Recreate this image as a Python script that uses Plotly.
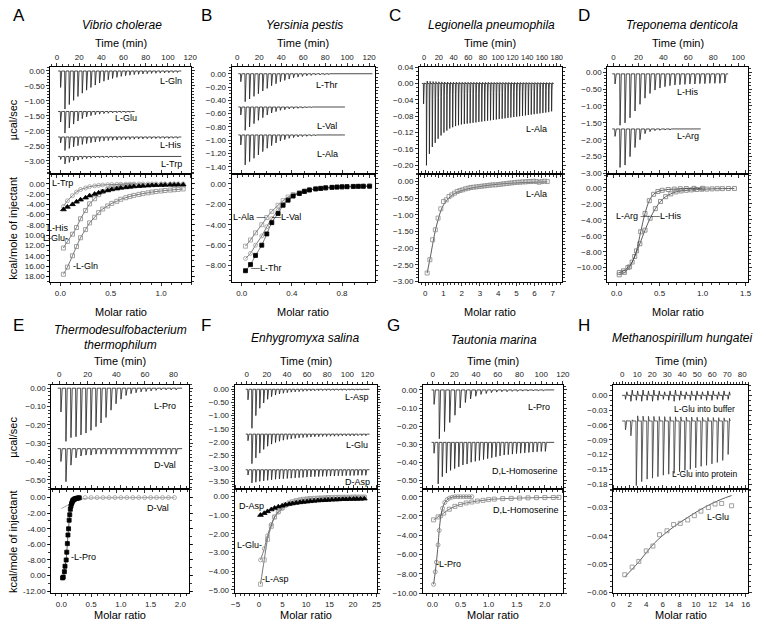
import plotly.graph_objects as go

W, H = 766, 633

# ------------------------------------------------------------------ DATA
# Panel A  (Vibrio cholerae)
A_inj = (3, 3.9)
A_Gln_peaks = [0.55,1.27,1.12,0.98,0.85,0.74,0.64,0.55,0.47,0.40,0.34,0.29,0.25,0.21,0.18,0.16,0.14,0.12,0.11,0.10,0.09,0.08,0.075,0.07,0.065,0.06,0.055,0.05]
A_Glu_peaks = [0.35,0.72,0.55,0.42,0.32,0.24,0.18,0.14,0.11,0.09,0.07,0.06,0.05,0.045,0.04,0.035,0.03]
A_His_peaks = [0.2,0.45,0.38,0.33,0.29,0.25,0.22,0.19,0.17,0.15,0.13,0.12,0.11,0.1,0.09,0.085,0.08,0.075,0.07,0.065,0.06,0.06,0.055,0.05,0.05,0.05,0.045,0.045]
A_Trp_peaks = [0.1,0.25,0.2,0.15,0.12,0.09,0.07,0.06,0.05,0.045,0.04,0.035,0.03,0.03,0.03,0.025,0.025,0.025,0.02,0.02,0.02,0.02,0.02,0.02,0.02,0.02,0.02,0.02]
A_base = {"L-Gln": 0.0, "L-Glu": -1.35, "L-His": -2.2, "L-Trp": -2.85}
A_x = [0.03,0.07,0.12,0.16,0.2,0.25,0.29,0.34,0.38,0.42,0.47,0.51,0.56,0.6,0.65,0.69,0.73,0.78,0.82,0.87,0.91,0.95,1.0,1.04,1.09,1.13,1.17,1.22]
A_Gln_y = [-17.6,-16.2,-14.0,-12.2,-10.5,-8.9,-7.6,-6.5,-5.6,-4.9,-4.3,-3.8,-3.4,-3.0,-2.7,-2.45,-2.25,-2.05,-1.9,-1.75,-1.6,-1.5,-1.4,-1.3,-1.22,-1.15,-1.08,-1.0]
A_Glu_x = [0.03,0.07,0.12,0.16,0.2,0.25,0.29,0.34,0.38,0.42,0.47,0.51,0.56,0.6,0.65,0.69,0.73]
A_Glu_y = [-12.5,-11.2,-9.8,-8.5,-6.8,-5.2,-3.9,-2.9,-2.1,-1.5,-1.1,-0.8,-0.6,-0.45,-0.35,-0.3,-0.25]
A_His_y = [-5.0,-4.5,-4.0,-3.5,-3.1,-2.7,-2.3,-2.0,-1.75,-1.5,-1.3,-1.1,-0.95,-0.8,-0.7,-0.6,-0.52,-0.45,-0.4,-0.35,-0.3,-0.28,-0.25,-0.22,-0.2,-0.2,-0.18,-0.18]
A_Trp_y = [-4.4,-3.3,-2.3,-1.6,-1.1,-0.8,-0.55,-0.4,-0.3,-0.22,-0.17,-0.13,-0.1,-0.08,-0.06,-0.05,-0.04,-0.03,-0.03,-0.02,-0.02,-0.02,-0.01,-0.01,-0.01,-0.01,0.0,0.0]

# Panel B  (Yersinia pestis)
B_inj = (3, 4.0)
B_Thr_peaks = [0.12,0.42,0.38,0.34,0.3,0.26,0.22,0.18,0.15,0.12,0.1,0.08,0.06,0.05,0.04,0.03,0.025,0.02,0.018,0.015,0.012,0.01,0.01,0.008,0.008,0.006,0.005,0.005,0.004,0.004]
B_Val_peaks = [0.12,0.35,0.3,0.25,0.2,0.16,0.12,0.09,0.07,0.05,0.04,0.03,0.025,0.02,0.015,0.012,0.01,0.01,0.008,0.008,0.006,0.005,0.005]
B_Ala_peaks = [0.15,0.45,0.4,0.35,0.3,0.25,0.2,0.16,0.12,0.09,0.07,0.05,0.04,0.03,0.025,0.02,0.015,0.012,0.01,0.01,0.008,0.006,0.005]
B_base = {"L-Thr": 0.0, "L-Val": -0.5, "L-Ala": -0.92}
B_x = [0.03,0.07,0.11,0.16,0.2,0.24,0.29,0.33,0.37,0.41,0.46,0.5,0.54,0.59,0.63,0.67,0.72,0.76,0.8,0.84,0.89,0.93,0.97,1.02]
B_Thr_y = [-8.5,-7.9,-7.0,-6.0,-4.9,-3.8,-2.9,-2.1,-1.6,-1.2,-0.95,-0.75,-0.6,-0.5,-0.45,-0.4,-0.35,-0.32,-0.3,-0.28,-0.26,-0.25,-0.24,-0.23]
B_Val_y = [-7.3,-6.8,-6.0,-5.1,-4.2,-3.4,-2.6,-2.0,-1.5,-1.15,-0.9,-0.72,-0.6,-0.5,-0.45,-0.4,-0.36,-0.33,-0.3,-0.28,-0.26,-0.25,-0.24,-0.23]
B_Ala_y = [-6.1,-5.5,-4.8,-4.0,-3.3,-2.7,-2.1,-1.65,-1.3,-1.05,-0.85,-0.7,-0.6,-0.5,-0.45,-0.4,-0.36,-0.33,-0.3,-0.28,-0.26,-0.25,-0.24,-0.23]

# Panel C  (Legionella pneumophila)
C_inj = (-1, 3.95)
C_Ala_peaks = [0.05,0.2,0.172,0.155,0.145,0.135,0.127,0.12,0.115,0.11,0.107,0.104,0.102,0.1,0.099,0.098,0.097,0.096,0.095,0.094,0.093,0.092,0.091,0.09,0.089,0.088,0.087,0.086,0.085,0.084,0.083,0.082,0.081,0.08,0.079,0.078,0.077,0.076,0.075,0.074,0.073,0.072,0.071,0.07,0.068]
C_x = [0.1,0.25,0.4,0.55,0.7,0.85,1.0,1.15,1.3,1.45,1.6,1.75,1.9,2.05,2.2,2.35,2.5,2.65,2.8,2.95,3.1,3.25,3.4,3.55,3.7,3.85,4.0,4.15,4.3,4.45,4.6,4.75,4.9,5.05,5.2,5.35,5.5,5.65,5.8,5.95,6.1,6.25,6.4,6.55,6.7]
C_y = [-2.75,-2.35,-1.75,-1.45,-1.1,-0.82,-0.6,-0.55,-0.45,-0.4,-0.35,-0.3,-0.27,-0.25,-0.22,-0.2,-0.18,-0.17,-0.16,-0.15,-0.14,-0.13,-0.12,-0.11,-0.1,-0.1,-0.09,-0.08,-0.07,-0.06,-0.05,-0.04,-0.03,-0.02,-0.02,-0.01,-0.01,0.0,0.0,0.01,0.0,-0.02,0.0,0.01,0.0]
C_fit_x = [0.1,0.3,0.5,0.7,1.0,1.5,2.0,3.0,4.0,5.0,6.0,6.7]
C_fit_y = [-2.75,-2.2,-1.6,-1.15,-0.7,-0.4,-0.27,-0.15,-0.08,-0.04,-0.02,-0.01]

# Panel D  (Treponema denticola)
D_inj = (1, 4.0)
D_His_peaks = [0.3,1.52,1.45,1.3,1.1,0.9,0.72,0.58,0.48,0.42,0.38,0.35,0.33,0.32,0.31,0.3,0.3,0.29,0.29,0.28,0.28,0.28,0.27]
D_Arg_peaks = [0.22,1.14,1.07,0.82,0.55,0.32,0.14,0.08,0.05,0.04,0.03,0.03,0.02,0.02,0.02,0.02,0.02]
D_base = {"L-His": -0.05, "L-Arg": -1.68}
D_His_x = [0.03,0.09,0.15,0.21,0.27,0.33,0.39,0.45,0.51,0.57,0.63,0.69,0.75,0.81,0.87,0.93,0.99,1.05,1.11,1.17,1.23,1.3,1.37]
D_His_y = [-10.9,-10.6,-9.9,-8.6,-7.0,-5.3,-3.8,-2.6,-1.7,-1.1,-0.75,-0.5,-0.38,-0.3,-0.25,-0.2,-0.17,-0.15,-0.12,-0.1,-0.09,-0.08,-0.07]
D_Arg_x = [0.03,0.08,0.13,0.18,0.23,0.28,0.33,0.38,0.43,0.48,0.53,0.6,0.67,0.74,0.81,0.9,1.0]
D_Arg_y = [-10.6,-10.4,-10.0,-9.3,-7.9,-5.5,-3.2,-1.6,-0.8,-0.45,-0.3,-0.2,-0.15,-0.1,-0.08,-0.06,-0.05]

# Panel E  (Thermodesulfobacterium thermophilum)
E_inj = (1, 3.5)
E_Pro_peaks = [0.13,0.29,0.27,0.265,0.255,0.245,0.23,0.21,0.19,0.16,0.12,0.085,0.06,0.04,0.03,0.025,0.02,0.018,0.015,0.012,0.01,0.01,0.01,0.01]
E_Val_peaks = [0.07,0.18,0.09,0.05,0.04,0.035,0.035,0.03,0.03,0.03,0.03,0.03,0.03,0.03,0.03,0.03,0.03,0.03,0.03,0.03,0.03,0.03,0.03,0.03]
E_base = {"L-Pro": 0.0, "D-Val": -0.33}
E_Pro_x = [0.02,0.03,0.05,0.06,0.08,0.09,0.1,0.11,0.12,0.13,0.14,0.15,0.16,0.17,0.18,0.19,0.2,0.22,0.24,0.26,0.28,0.3]
E_Pro_y = [-10.3,-10.2,-9.5,-8.8,-8.0,-7.0,-5.9,-4.8,-4.0,-2.9,-2.2,-1.5,-1.1,-0.8,-0.6,-0.4,-0.3,-0.2,-0.12,-0.08,-0.05,-0.03]
E_Val_x = [0.2,0.3,0.4,0.5,0.6,0.7,0.8,0.9,1.0,1.1,1.2,1.3,1.4,1.5,1.6,1.7,1.8,1.9]
E_Val_y = [-0.15,-0.05,0.0,0.0,0.0,0.0,0.0,0.0,0.0,0.0,0.0,0.0,0.0,0.0,0.0,0.0,0.0,0.0]
E_Valfit_x = [0.0,0.1,0.2,0.3,0.4,0.6,1.0,1.9]
E_Valfit_y = [-1.4,-1.0,-0.6,-0.3,-0.1,-0.04,-0.02,-0.01]

# Panel F  (Enhygromyxa salina)
F_inj = (1, 3.9)
F_Asp_peaks = [0.4,1.48,1.0,0.72,0.52,0.38,0.28,0.22,0.18,0.15,0.13,0.11,0.1,0.09,0.08,0.07,0.065,0.06,0.055,0.05,0.05,0.045,0.045,0.04,0.04,0.04,0.035,0.035,0.035,0.03,0.03]
F_Glu_peaks = [0.25,1.12,0.9,0.72,0.58,0.46,0.38,0.32,0.27,0.23,0.2,0.18,0.16,0.14,0.13,0.12,0.11,0.1,0.1,0.09,0.09,0.08,0.08,0.08,0.07,0.07,0.07,0.07,0.06,0.06,0.06]
F_DAsp_peaks = [0.2,0.5,0.47,0.44,0.42,0.4,0.38,0.36,0.35,0.34,0.33,0.32,0.31,0.3,0.29,0.28,0.27,0.26,0.26,0.25,0.25,0.24,0.24,0.23,0.23,0.22,0.22,0.22,0.21,0.21,0.21]
F_base = {"L-Asp": 0.0, "L-Glu": -1.7, "D-Asp": -3.05}
F_x = [0.3,1.1,1.8,2.6,3.3,4.1,4.9,5.6,6.4,7.1,7.9,8.7,9.4,10.2,10.9,11.7,12.5,13.2,14.0,14.7,15.5,16.3,17.0,17.8,18.5,19.3,20.1,20.8,21.6,22.4]
F_Asp_y = [-4.7,-3.4,-2.3,-1.6,-1.1,-0.8,-0.6,-0.45,-0.35,-0.28,-0.22,-0.18,-0.15,-0.13,-0.11,-0.1,-0.09,-0.08,-0.07,-0.06,-0.06,-0.05,-0.05,-0.04,-0.04,-0.04,-0.03,-0.03,-0.03,-0.03]
F_Glu_y = [-3.4,-2.8,-2.1,-1.5,-1.1,-0.85,-0.65,-0.5,-0.4,-0.33,-0.27,-0.22,-0.19,-0.16,-0.14,-0.12,-0.11,-0.1,-0.09,-0.08,-0.08,-0.07,-0.07,-0.06,-0.06,-0.05,-0.05,-0.05,-0.05,-0.05]
F_DAsp_y = [-1.0,-0.9,-0.8,-0.7,-0.62,-0.55,-0.5,-0.45,-0.41,-0.38,-0.35,-0.32,-0.3,-0.28,-0.26,-0.24,-0.22,-0.21,-0.2,-0.19,-0.18,-0.17,-0.16,-0.15,-0.15,-0.14,-0.14,-0.13,-0.13,-0.12]

# Panel G  (Tautonia marina)
G_Pro_inj = (1, 4.8)
G_Hom_inj = (1, 3.8)
G_Pro_peaks = [0.08,0.27,0.23,0.18,0.14,0.1,0.07,0.05,0.035,0.025,0.02,0.015,0.012,0.01,0.01,0.008,0.008,0.006,0.006,0.005,0.005,0.005]
G_Hom_peaks = [0.06,0.23,0.19,0.17,0.155,0.145,0.135,0.125,0.12,0.11,0.105,0.1,0.095,0.09,0.085,0.08,0.075,0.07,0.068,0.065,0.062,0.06,0.058,0.056,0.054,0.052,0.05,0.05]
G_base = {"L-Pro": 0.0, "D,L-Homoserine": -0.29}
G_Pro_x = [0.02,0.05,0.07,0.1,0.12,0.15,0.18,0.22,0.26,0.3,0.35,0.4,0.45,0.5,0.55,0.6,0.65,0.7]
G_Pro_y = [-9.1,-7.8,-6.8,-5.0,-3.5,-2.0,-1.2,-0.6,-0.3,-0.15,-0.05,0.0,0.0,0.0,0.0,0.0,0.0,0.0]
G_Hom_x = [0.02,0.1,0.2,0.3,0.4,0.5,0.6,0.7,0.8,0.9,1.0,1.1,1.25,1.4,1.55,1.7,1.85,2.0,2.15,2.25]
G_Hom_y = [-2.4,-2.1,-1.7,-1.3,-1.0,-0.8,-0.65,-0.55,-0.45,-0.38,-0.3,-0.25,-0.2,-0.17,-0.14,-0.12,-0.1,-0.09,-0.08,-0.07]

# Panel H  (Methanospirillum hungatei)
H_inj = (2, 3.6)
H_buf_peaks = [0.008,0.012,0.01,0.012,0.01,0.012,0.01,0.008,0.01,0.012,0.01,0.008,0.01,0.01,0.008,0.01,0.01,0.008,0.01,0.008]
H_prot_peaks = [0.018,0.03,0.131,0.123,0.118,0.116,0.113,0.11,0.108,0.106,0.103,0.1,0.098,0.095,0.092,0.09,0.087,0.084,0.08,0.068]
H_base = {"buffer": 0.0, "protein": -0.052}
H_x = [1.4,2.3,3.1,4.0,4.8,5.6,6.5,7.3,8.1,9.0,9.8,10.6,11.5,12.3,13.1,14.3]
H_y = [-0.0537,-0.0510,-0.0490,-0.0453,-0.0436,-0.0396,-0.0382,-0.0360,-0.0356,-0.0344,-0.0329,-0.0313,-0.0300,-0.0288,-0.0286,-0.0294]
H_fit_x = [1.4,3.0,5.0,7.0,9.0,11.0,13.0,14.3]
H_fit_y = [-0.0545,-0.0495,-0.0425,-0.0375,-0.0335,-0.0300,-0.0272,-0.0258]

# ------------------------------------------------------------------ FIGURE
FONT = "Liberation Sans, Arial, sans-serif"
fig = go.Figure()

def names(i):
    return ("x" if i == 1 else f"x{i}"), ("y" if i == 1 else f"y{i}")

def thermo(inj, peaks, base, tend, over=0.0):
    t0, dt = inj
    xs, ys = [t0 - 2], [base]
    for i, d in enumerate(peaks):
        t = t0 + i * dt
        xs += [t, t + 0.07 * dt, t + 0.2 * dt, t + 0.32 * dt, t + 0.45 * dt]
        ys += [base, base - d, base - 0.25 * d, base + over * d, base]
    xs.append(tend)
    ys.append(base)
    return xs, ys

def add_thermo(i, inj, peaks, base, tend, over=0.0, color="#1e1e1e"):
    xa, ya = names(i)
    xs, ys = thermo(inj, peaks, base, tend, over)
    fig.add_trace(go.Scatter(x=xs, y=ys, mode="lines", xaxis=xa, yaxis=ya,
                             line=dict(color=color, width=0.8), hoverinfo="skip"))

def add_pts(i, x, y, symbol, color, size=4, line=True, lcolor="#555", lx=None, ly=None):
    xa, ya = names(i)
    if line:
        fig.add_trace(go.Scatter(x=lx if lx is not None else x, y=ly if ly is not None else y,
                                 mode="lines", xaxis=xa, yaxis=ya, line=dict(color=lcolor, width=0.8, shape="spline"),
                                 hoverinfo="skip"))
    fig.add_trace(go.Scatter(x=x, y=y, mode="markers", xaxis=xa, yaxis=ya,
                             marker=dict(symbol=symbol, size=size, color=color,
                                         line=dict(color=color, width=0.8)), hoverinfo="skip"))

annots = []
def lab(i, x, y, text, size=9, anchor="center"):
    xa, ya = names(i)
    annots.append(dict(x=x, y=y, xref=xa, yref=ya, text=text, showarrow=False,
                       xanchor=anchor, font=dict(size=size, family=FONT, color="black")))

def ptext(px, py, text, size=11, anchor="center", angle=0):
    annots.append(dict(x=px / W, y=1 - py / H, xref="paper", yref="paper", text=text,
                       showarrow=False, xanchor=anchor, yanchor="middle", textangle=angle,
                       font=dict(size=size, family=FONT, color="black")))

# ---- Panel A
add_thermo(1, A_inj, A_Gln_peaks, A_base["L-Gln"], 112)
add_thermo(1, A_inj, A_Glu_peaks, A_base["L-Glu"], 70)
add_thermo(1, A_inj, A_His_peaks, A_base["L-His"], 112)
add_thermo(1, A_inj, A_Trp_peaks, A_base["L-Trp"], 112)
add_pts(2, A_x, A_Gln_y, "square-open", "#8a8a8a")
add_pts(2, A_Glu_x, A_Glu_y, "square-open", "#8a8a8a")
add_pts(2, A_x, A_Trp_y, "circle-open", "#9a9a9a")
add_pts(2, A_x, A_His_y, "triangle-up", "black", size=5)
lab(1, 103, -0.33, "L-Gln"); lab(1, 62, -1.58, "L-Glu"); lab(1, 103, -2.48, "L-His"); lab(1, 103, -3.1, "L-Trp")
lab(2, 0.02, 0.15, "L-Trp"); lab(2, -0.02, -8.6, "L-His"); lab(2, -0.05, -10.5, "L-Glu-"); lab(2, 0.25, -15.9, "-L-Gln")

# ---- Panel B
add_thermo(3, B_inj, B_Thr_peaks, B_base["L-Thr"], 123)
add_thermo(3, B_inj, B_Val_peaks, B_base["L-Val"], 98)
add_thermo(3, B_inj, B_Ala_peaks, B_base["L-Ala"], 98)
add_pts(4, B_x, B_Ala_y, "square-open", "#9a9a9a")
add_pts(4, B_x, B_Val_y, "circle-open", "#9a9a9a")
add_pts(4, B_x, B_Thr_y, "square", "black", size=4)
lab(3, 82, -0.17, "L-Thr"); lab(3, 82, -0.79, "L-Val"); lab(3, 82, -1.2, "L-Ala")
lab(4, 0.06, -3.25, "L-Ala —"); lab(4, 0.36, -3.25, "—L-Val"); lab(4, 0.2, -8.25, "—L-Thr")

# ---- Panel C
add_thermo(5, C_inj, C_Ala_peaks, 0.0, 176, over=0.03)
add_pts(6, C_x, C_y, "square-open", "#8a8a8a", lx=C_fit_x, ly=C_fit_y, lcolor="#333")
lab(5, 152, -0.111, "L-Ala"); lab(6, 6.1, -0.36, "L-Ala")

# ---- Panel D
add_thermo(7, D_inj, D_His_peaks, D_base["L-His"], 92)
add_thermo(7, D_inj, D_Arg_peaks, D_base["L-Arg"], 70)
add_pts(8, D_His_x, D_His_y, "square-open", "#7a7a7a", lcolor="#333")
add_pts(8, D_Arg_x, D_Arg_y, "square-open", "#7a7a7a", lcolor="#333")
lab(7, 60, -0.58, "L-His"); lab(7, 60, -1.9, "L-Arg")
lab(8, 0.19, -3.5, "L-Arg —"); lab(8, 0.58, -3.5, "—L-His")

# ---- Panel E
add_thermo(9, E_inj, E_Pro_peaks, E_base["L-Pro"], 86)
add_thermo(9, E_inj, E_Val_peaks, E_base["D-Val"], 86)
add_pts(10, E_Val_x, E_Val_y, "circle-open", "#9a9a9a", lx=E_Valfit_x, ly=E_Valfit_y, lcolor="#888")
add_pts(10, E_Pro_x, E_Pro_y, "square", "black", size=4, lcolor="#333")
lab(9, 74, -0.096, "L-Pro"); lab(9, 74, -0.42, "D-Val")
lab(10, 1.62, -1.3, "D-Val"); lab(10, 0.37, -7.6, "-L-Pro")

# ---- Panel F
add_thermo(11, F_inj, F_Asp_peaks, F_base["L-Asp"], 122)
add_thermo(11, F_inj, F_Glu_peaks, F_base["L-Glu"], 122)
add_thermo(11, F_inj, F_DAsp_peaks, F_base["D-Asp"], 122)
add_pts(12, F_x, F_Asp_y, "square-open", "#9a9a9a")
add_pts(12, F_x, F_Glu_y, "circle-open", "#9a9a9a")
add_pts(12, F_x, F_DAsp_y, "triangle-up", "black", size=5)
lab(11, 110, -0.3, "L-Asp"); lab(11, 110, -2.1, "L-Glu"); lab(11, 110, -3.52, "D-Asp")
lab(12, -1.6, -0.49, "D-Asp"); lab(12, -2.0, -2.6, "L-Glu-"); lab(12, 3.6, -4.4, "-L-Asp")

# ---- Panel G
add_thermo(13, G_Pro_inj, G_Pro_peaks, G_base["L-Pro"], 112)
add_thermo(13, G_Hom_inj, G_Hom_peaks, G_base["D,L-Homoserine"], 112)
add_pts(14, G_Hom_x, G_Hom_y, "square-open", "#8a8a8a", lcolor="#555")
add_pts(14, G_Pro_x, G_Pro_y, "circle-open", "#8a8a8a", lcolor="#333")
lab(13, 98, -0.093, "L-Pro"); lab(13, 85, -0.45, "D,L-Homoserine")
lab(14, 1.66, -1.36, "D,L-Homoserine"); lab(14, 0.28, -6.95, "-L-Pro")

# ---- Panel H
add_thermo(15, H_inj, H_buf_peaks, H_base["buffer"], 72, over=0.9, color="#1e1e1e")
add_thermo(15, H_inj, H_prot_peaks, H_base["protein"], 72, over=0.08, color="#3a3a3a")
add_pts(16, H_x, H_y, "square-open", "#8a8a8a", lx=H_fit_x, ly=H_fit_y, lcolor="#333")
lab(15, 55, -0.028, "L-Glu into buffer", size=8.5); lab(15, 55, -0.16, "L-Glu into protein", size=8.5)
lab(16, 12.6, -0.0333, "L-Glu")

# ------------------------------------------------------------------ LAYOUT
# pixel boxes: (left, right, top, mid, bottom)
boxes = [
    (47, 190, 64, 172, 282), (231, 376, 64, 172, 282), (421, 566, 64, 172, 282), (612, 755, 64, 172, 282),
    (48, 188, 386, 492, 598), (234, 378, 386, 492, 598), (425, 567, 386, 492, 598), (618, 755, 386, 492, 598),
]
# upper: (xrange, dtick, yrange, ydtick)
upper = [
    ([-6, 121], 20, [-3.42, 0.13], 0.5),
    ([-5, 125], 20, [-1.5, 0.1], 0.2),
    ([-7, 187], 20, [-0.22, 0.04], 0.04),
    ([-5, 108], 20, [-3.0, 0.15], 0.5),
    ([-5.5, 91], 20, [-0.55, 0.02], 0.1),
    ([-12, 129], 20, [-3.78, 0.18], 0.5),
    ([-9, 120], 20, [-0.548, 0.03], 0.1),
    ([-6, 84], 10, [-0.19, 0.022], 0.03),
]
# lower: (xrange, dtick, xfmt, yrange, ydtick)
lower = [
    ([-0.1, 1.3], 0.5, ".1f", [-19.1, 2.0], 2),
    ([-0.08, 1.06], 0.4, ".1f", [-9.6, 1.0], 2),
    ([-0.35, 7.5], 1, "d", [-3.02, 0.24], 0.5),
    ([-0.11, 1.53], 0.5, ".1f", [-11.8, 1.8], 2),
    ([-0.17, 2.15], 0.5, ".1f", [-12.3, 1.1], 2),
    ([-5.2, 25], 5, "d", [-5.2, 0.4], 1),
    ([-0.17, 2.32], 0.5, ".1f", [-10.05, 0.8], 2),
    ([0, 16.3], 2, "d", [-0.0603, -0.0235], 0.01),
]

def base_axis():
    return dict(showline=True, linecolor="black", linewidth=1, mirror="ticks", ticks="outside",
                ticklen=3, tickwidth=0.8, tickcolor="black", showgrid=False, zeroline=False,
                tickangle=0, ticklabeloverflow="allow", tickfont=dict(size=8, color="#222", family=FONT),
                minor=dict(ticks="outside", ticklen=2, tickcolor="black", showgrid=False))

lay = {}
for k in range(8):
    L, R, T, M, B = boxes[k]
    iu, il = 2 * k + 1, 2 * k + 2
    xu, yu = names(iu)
    xl, yl = names(il)
    xr, xd, yr, yd = upper[k]
    ax = base_axis(); ax.update(domain=[L / W, R / W], anchor=yu, side="top", range=xr, dtick=xd, tick0=0)
    lay["xaxis" if iu == 1 else f"xaxis{iu}"] = ax
    ay = base_axis(); ay.update(domain=[1 - M / H, 1 - T / H], anchor=xu, range=yr, dtick=yd, tick0=0, tickformat=".2f")
    lay["yaxis" if iu == 1 else f"yaxis{iu}"] = ay
    lxr, lxd, lxf, lyr, lyd = lower[k]
    ax = base_axis(); ax.update(domain=[L / W, R / W], anchor=yl, side="bottom", range=lxr, dtick=lxd, tick0=0,
                                tickformat=lxf)
    lay[f"xaxis{il}"] = ax
    ay = base_axis(); ay.update(domain=[1 - B / H, 1 - M / H], anchor=xl, range=lyr, dtick=lyd, tick0=0, tickformat=".2f")
    lay[f"yaxis{il}"] = ay

lay["xaxis5"]["tickfont"] = dict(size=7.5, color="#222", family=FONT)

# clipped tick texts as printed in the original
lay["yaxis2"].update(tickmode="array", tickvals=[0, -2, -4, -6, -8, -10, -12, -14, -16, -18],
                     ticktext=["0.00", "-2.00", "-4.00", "-6.00", "-8.00", "10.00", "12.00", "14.00", "16.00", "18.00"])
lay["yaxis10"].update(tickmode="array", tickvals=[0, -2, -4, -6, -8, -10, -12],
                      ticktext=["0.00", "-2.00", "-4.00", "-6.00", "-8.00", "0.00", "-12.00"])

# panel texts
letters = [("A", 15, 12), ("B", 205, 12), ("C", 397, 12), ("D", 588, 12),
           ("E", 15, 326), ("F", 205, 326), ("G", 395, 326), ("H", 588, 326)]
for t, x, y in letters:
    ptext(x, y, t, size=17)
titles = [("Vibrio cholerae", 120, 21, 12), ("Yersinia pestis", 305, 21, 12), ("Legionella pneumophila", 495, 21, 12),
          ("Treponema denticola", 688, 21, 12), ("Thermodesulfobacterium", 118, 331, 12), ("thermophilum", 118, 346, 12),
          ("Enhygromyxa salina", 305, 339, 12), ("Tautonia marina", 497, 341, 12),
          ("Methanospirillum hungatei", 688, 339, 12)]
for t, x, y, s in titles:
    ptext(x, y, "<i>" + t + "</i>", size=s)
for k in range(8):
    L, R, T, M, B = boxes[k]
    ty = 40 if k < 4 else 362
    my = 312 if k < 4 else 620
    ptext((L + R) / 2, ty, "Time (min)", size=11)
    ptext((L + R) / 2, my, "Molar ratio", size=11)
ptext(9, 117, "µcal/sec", size=11, angle=-90)
ptext(9, 227, "kcal/mole of injectant", size=11, angle=-90)
ptext(9, 439, "µcal/sec", size=11, angle=-90)
ptext(9, 545, "kcal/mole of injectant", size=11, angle=-90)

fig.update_layout(width=W, height=H, margin=dict(l=0, r=0, t=0, b=0), showlegend=False,
                  paper_bgcolor="white", plot_bgcolor="white", annotations=annots,
                  font=dict(family=FONT), **lay)
fig.write_html("out.html", config={"displayModeBar": False, "staticPlot": True},
               post_script="document.body.style.margin='0';document.body.style.overflow='hidden';"
                           "document.documentElement.style.overflow='hidden';")
